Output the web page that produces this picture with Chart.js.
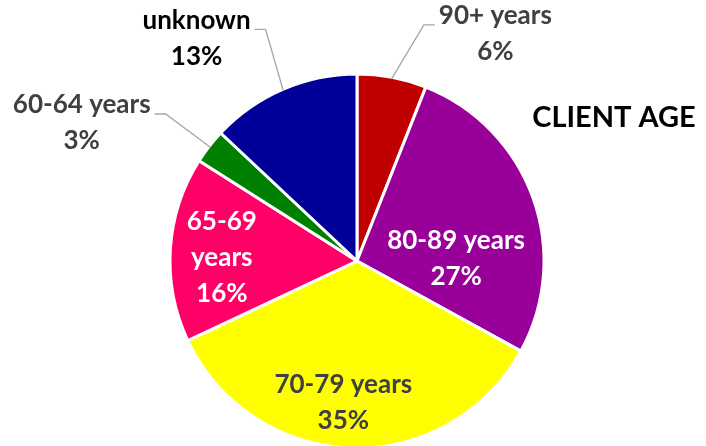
<!DOCTYPE html>
<html>
<head>
<meta charset="utf-8">
<script src="https://cdn.jsdelivr.net/npm/chart.js@4/dist/chart.umd.min.js"></script>
<style>
  html, body { margin: 0; padding: 0; background: #fff; }
  #wrap { width: 706px; height: 446px; }
</style>
</head>
<body>
<div id="wrap"><canvas id="chart-age"></canvas></div>
<script>
const ageGroups = ['90+ years', '80-89 years', '70-79 years', '65-69 years', '60-64 years', 'unknown'];
const agePercents = [6, 27, 35, 16, 3, 13];
const sliceColors = ['#C00000', '#990099', '#FFFF00', '#FF0066', '#008000', '#000099'];
const labelColors = ['#404040', '#FFFFFF', '#404040', '#FFFFFF', '#404040', '#000000'];
const chartTitle = 'CLIENT AGE';

// label placement, in units of the pie radius from the centre
const labelSpots = [
  { x: 0.74, y: -1.215, leader: 'left' },
  { x: 0.53, y: -0.011 },
  { x: -0.073, y: 0.757 },
  { x: -0.723, y: -0.019, wrap: true },
  { x: -1.472, y: -0.738, leader: 'right' },
  { x: -0.858, y: -1.19, leader: 'right' }
];

const FONT = 'bold 26px Lato';
const LINE_H = 36;

function labelText(i) {
  const pct = `${agePercents[i]}%`;
  if (labelSpots[i].wrap) return [...ageGroups[i].split(' '), pct];
  return [ageGroups[i], pct];
}

const pieLabels = {
  id: 'pieLabels',
  afterDatasetsDraw(chart) {
    const ctx = chart.ctx;
    const meta = chart.getDatasetMeta(0);
    ctx.save();
    ctx.font = FONT;
    ctx.textAlign = 'center';
    ctx.textBaseline = 'middle';
    meta.data.forEach((arc, i) => {
      const { x, y, outerRadius, startAngle, endAngle } = arc.getProps(['x', 'y', 'outerRadius', 'startAngle', 'endAngle'], true);
      const spot = labelSpots[i];
      const lines = labelText(i);
      const cx = x + spot.x * outerRadius;
      const cy = y + spot.y * outerRadius;
      const top = cy - (lines.length - 1) * LINE_H / 2;
      ctx.fillStyle = labelColors[i];
      lines.forEach((t, k) => ctx.fillText(t, cx, top + k * LINE_H));

      if (spot.leader) {
        const w = ctx.measureText(lines[0]).width;
        const mid = (startAngle + endAngle) / 2;
        const ex = x + Math.cos(mid) * (outerRadius - 1);
        const ey = y + Math.sin(mid) * (outerRadius - 1);
        const ly = top + 9;
        const dir = spot.leader === 'left' ? -1 : 1;
        const edge = cx + dir * w / 2;
        ctx.beginPath();
        ctx.moveTo(ex, ey);
        ctx.lineTo(edge + dir * 15, ly);
        ctx.lineTo(edge + dir * 4, ly);
        ctx.strokeStyle = '#A6A6A6';
        ctx.lineWidth = 1.3;
        ctx.stroke();
      }
    });
    ctx.font = 'bold 29px Lato';
    ctx.fillStyle = '#000000';
    ctx.fillText(chartTitle, 614, 118);
    ctx.restore();
  }
};

new Chart(document.getElementById('chart-age'), {
  type: 'pie',
  data: {
    labels: ageGroups,
    datasets: [{
      data: agePercents,
      backgroundColor: sliceColors,
      borderColor: '#FFFFFF',
      borderWidth: 3
    }]
  },
  options: {
    responsive: true,
    maintainAspectRatio: false,
    animation: false,
    events: [],
    radius: 187,
    layout: { padding: { top: 76, bottom: 0, left: 8, right: 0 } },
    plugins: {
      legend: { display: false },
      tooltip: { enabled: false }
    }
  },
  plugins: [pieLabels]
});
</script>
</body>
</html>
